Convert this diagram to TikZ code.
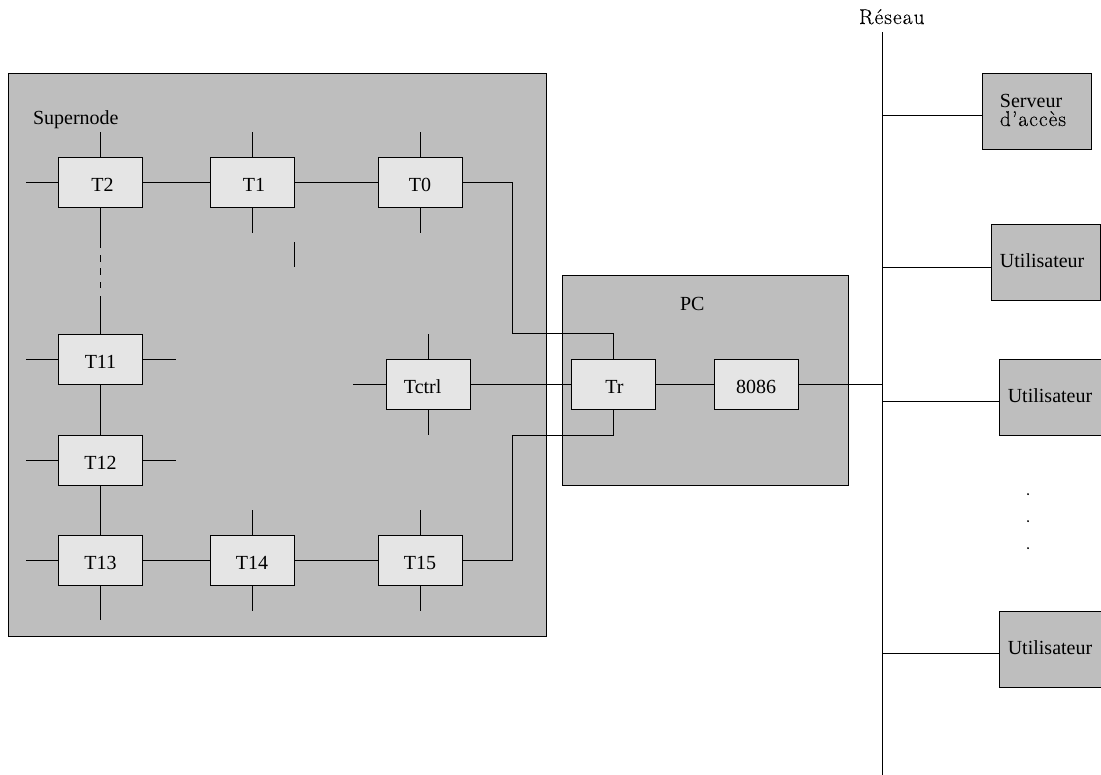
\documentclass[tikz,border=0pt]{standalone}
\usepackage{fontspec}
\setmainfont{Liberation Serif}
\newfontfamily\cmfont[LetterSpace=5,FakeBold=0.25]{Latin Modern Roman}
\definecolor{panel}{gray}{0.745}
\definecolor{chip}{gray}{0.90}
\newcommand{\shifted}[2]{\makebox[0pt][c]{\kern#1\relax #2}}
\pgfdeclarelayer{top}\pgfsetlayers{main,top}
\tikzset{
  x=0.75pt,y=-0.75pt,
  every path/.style={line width=0.75pt,black},
  frame/.style={draw,fill=panel,inner sep=0pt,outer sep=0pt},
  chipbox/.style={draw,fill=chip,inner sep=0pt,outer sep=0pt,minimum width=63pt,minimum height=38pt,
    font=\fontsize{15}{18}\selectfont,text height=12.8pt,text depth=0pt},
  userbox/.style={draw,fill=panel,inner sep=0pt,outer sep=0pt,minimum height=57pt,
    font=\fontsize{15}{18}\selectfont,text height=8.5pt,text depth=0pt},
  caption/.style={inner sep=0pt,outer sep=0pt,anchor=base west,font=\fontsize{15}{18}\selectfont},
  cmlabel/.style={inner sep=0pt,outer sep=0pt,anchor=base west,font=\cmfont\fontsize{16}{19}\selectfont},
}
\begin{document}
\begin{tikzpicture}
\useasboundingbox (0,0) rectangle (1101,775);
% panels
\node[frame,minimum width=403.5pt,minimum height=422.25pt] (super) at (277,354.5) {};
\node[frame,minimum width=214.5pt,minimum height=157.5pt] (pc) at (705,380) {};
\node[caption] (superlabel) at (33,124) {Supernode};
\node[caption] (pclabel) at (680,310) {PC};
\begin{pgfonlayer}{top}
\node[chipbox] (T2) at (100.5,182.5) {\shifted{3pt}{T2}};
\node[chipbox] (T1) at (252,182.5) {\shifted{3pt}{T1}};
\node[chipbox] (T0) at (420,182.5) {\shifted{0pt}{T0}};
\node[chipbox] (T11) at (100.5,359.5) {\shifted{0pt}{T11}};
\node[chipbox] (T12) at (100.5,460.5) {\shifted{0pt}{T12}};
\node[chipbox] (T13) at (100.5,560.5) {\shifted{0pt}{T13}};
\node[chipbox] (T14) at (252,560.5) {\shifted{0pt}{T14}};
\node[chipbox] (T15) at (420,560.5) {\shifted{0pt}{T15}};
\node[chipbox] (Tctrl) at (428,384.5) {\shifted{-8pt}{Tctrl}};
\node[chipbox] (Tr) at (613,384.5) {\shifted{2pt}{Tr}};
\node[chipbox] (cpu) at (756,384.5) {\shifted{0pt}{8086}};
\node[userbox,minimum width=81.75pt,text height=22.5pt] (serv) at (1036.5,111)
  {\shifted{-5.25pt}{\vbox{\baselineskip=14.25pt\hbox{Serveur}\hbox{\cmfont\fontsize{16}{19}\selectfont d’accès}}}};
\node[userbox,minimum width=81.75pt] (u1) at (1045.5,262) {\shifted{-5pt}{Utilisateur}};
\node[userbox,minimum width=76.5pt] (u2) at (1050,397) {\shifted{0pt}{Utilisateur}};
\node[userbox,minimum width=76.5pt] (u3) at (1050,649) {\shifted{0pt}{Utilisateur}};
\end{pgfonlayer}
% network
\coordinate (nettop) at (882,32);
\coordinate (netbot) at (882,775);
\node[cmlabel] (netlabel) at (859,24) {Réseau};
\draw (nettop) -- (netbot);
\coordinate (nserv) at (882,115);
\coordinate (nu1) at (882,267);
\coordinate (ncpu) at (882,384.5);
\coordinate (nu2) at (882,401);
\coordinate (nu3) at (882,653);
\draw (nserv) -- (serv.west |- nserv);
\draw (nu1) -- (u1.west |- nu1);
\draw (nu2) -- (u2.west |- nu2);
\draw (nu3) -- (u3.west |- nu3);
\draw (cpu.east) -- (ncpu);
% ring
\draw (T2) -- (T1);
\draw (T1) -- (T0);
\draw (T13) -- (T14);
\draw (T14) -- (T15);
\draw (T11) -- (T12);
\draw (T12) -- (T13);
\draw (Tctrl.east) -- (Tr.west);
\draw (Tr.east) -- (cpu.west);
\coordinate (a1) at (512,182.5);
\coordinate (a2) at (512,333);
\coordinate (a3) at (613,333);
\draw (T0.east) -- (a1) -- (a2) -- (a3) -- (Tr.north);
\coordinate (b1) at (512,560.5);
\coordinate (b2) at (512,435);
\coordinate (b3) at (613,435);
\draw (T15.east) -- (b1) -- (b2) -- (b3) -- (Tr.south);
% dashed link T2 - T11
\coordinate (d1) at (100.5,248);
\coordinate (d2) at (100.5,255);
\coordinate (d3) at (100.5,261.5);
\coordinate (d4) at (100.5,268);
\coordinate (d5) at (100.5,275);
\coordinate (d6) at (100.5,282);
\coordinate (d7) at (100.5,288);
\coordinate (d8) at (100.5,296);
\draw (T2.south) -- (d1);
\draw (d2) -- (d3);
\draw (d4) -- (d5);
\draw (d6) -- (d7);
\draw (d8) -- (T11.north);
% stubs
\foreach \n/\dx/\dy in {
  T2.north/0/-25, T2.west/-33/0,
  T1.north/0/-25, T1.south/0/25,
  T0.north/0/-25, T0.south/0/25,
  T11.west/-33/0, T11.east/33/0,
  T12.west/-33/0, T12.east/33/0,
  T13.west/-33/0, T13.south/0/34,
  T14.north/0/-25, T14.south/0/25,
  T15.north/0/-25, T15.south/0/25,
  Tctrl.north/0/-25, Tctrl.south/0/25, Tctrl.west/-33/0}
  {\draw (\n) -- ++(\dx,\dy) coordinate (end-\n);}
% isolated tick
\coordinate (tick1) at (294,242);
\coordinate (tick2) at (294,267);
\draw (tick1) -- (tick2);
% ellipsis
\node[cmlabel,anchor=base] (dot1) at (1028,495) {.};
\node[cmlabel,anchor=base] (dot2) at (1028,522) {.};
\node[cmlabel,anchor=base] (dot3) at (1028,549) {.};
\end{tikzpicture}
\end{document}
